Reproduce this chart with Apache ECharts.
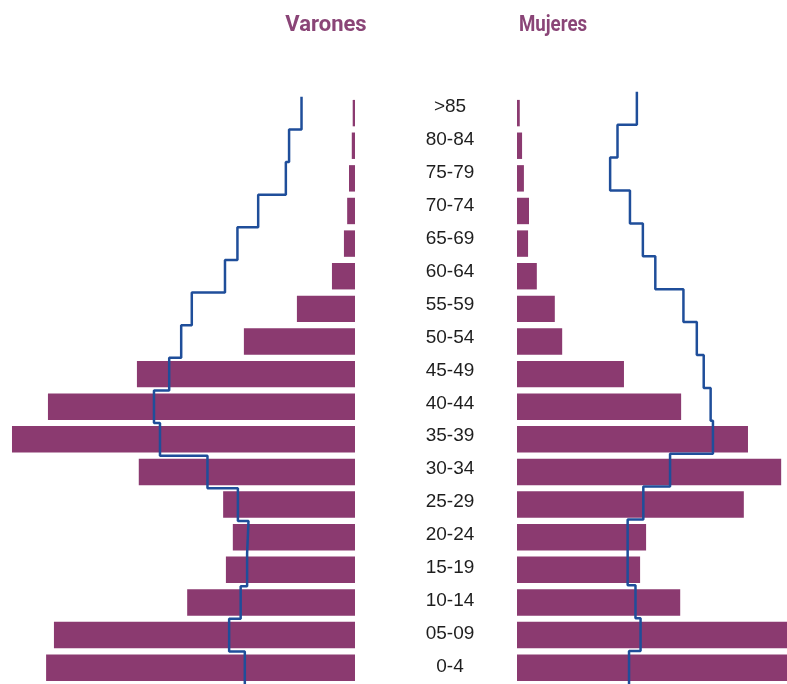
<!DOCTYPE html>
<html>
<head>
<meta charset="utf-8">
<script src="https://cdn.jsdelivr.net/npm/echarts@6/dist/echarts.min.js"></script>
<style>
html,body{margin:0;padding:0;background:#fff;}
#c{width:787px;height:684px;}
</style>
</head>
<body>
<div id="c"></div>
<script>
// Age groups, bottom to top
var ageGroups = ['0-4','05-09','10-14','15-19','20-24','25-29','30-34','35-39','40-44','45-49','50-54','55-59','60-64','65-69','70-74','75-79','80-84','>85'];
// Percent of population (bars)
var varones = [6.70,6.53,3.64,2.80,2.65,2.86,4.69,7.44,6.66,4.73,2.41,1.26,0.50,0.24,0.17,0.13,0.07,0.05];
var mujeres = [6.60,6.40,3.54,2.67,2.80,4.92,5.73,5.01,3.56,2.32,0.98,0.82,0.43,0.24,0.26,0.15,0.11,0.06];
// Reference population (step lines)
var varonesRef = [2.39,2.73,2.48,2.34,2.31,2.54,3.20,4.23,4.36,4.03,3.77,3.54,2.82,2.55,2.10,1.50,1.43,1.16];
var mujeresRef = [2.43,2.68,2.57,2.40,2.40,2.74,3.32,4.25,4.20,4.05,3.90,3.61,3.00,2.73,2.45,2.02,2.18,2.60];
var titles = ['Varones', 'Mujeres'];

function stepPoints(vals){
  var pts = [];
  for (var i = 0; i < vals.length; i++){
    pts.push([vals[i], i - 0.5]);
    pts.push([vals[i], i + 0.5]);
  }
  return pts;
}

var barColor = '#8B3A70';
var lineColor = '#1F4E9A';
var titleColor = '#8A4577';
var LW = 355, RW = 270;
var XMAX_L = 7.7;
var XMAX_R = XMAX_L * RW / LW;
var TOP = 96.8, H = 592.2;

var chart = echarts.init(document.getElementById('c'));
chart.setOption({
  animation:false,
  backgroundColor:'#fff',
  graphic:[
    {type:'text', x:326, y:14.5, style:{text:titles[0], textAlign:'center', textVerticalAlign:'top',
      font:'bold 22px Roboto', fill:titleColor}},
    {type:'text', x:553, y:14.5, scaleX:0.85, style:{text:titles[1], textAlign:'center', textVerticalAlign:'top',
      font:'bold 22px Roboto', fill:titleColor}}
  ],
  grid:[
    {left:0, width:LW, top:TOP, height:H},
    {left:517, width:RW, top:TOP, height:H},
    {left:0, width:LW, top:TOP, height:H},
    {left:517, width:RW, top:TOP-5, height:H},
    {left:517, width:RW, top:TOP-6, height:H}
  ],
  xAxis:[
    {type:'value', gridIndex:0, inverse:true, min:0, max:XMAX_L, show:false},
    {type:'value', gridIndex:1, min:0, max:XMAX_R, show:false},
    {type:'value', gridIndex:2, inverse:true, min:0, max:XMAX_L, show:false},
    {type:'value', gridIndex:3, min:0, max:XMAX_R, show:false},
    {type:'value', gridIndex:4, min:0, max:XMAX_R, show:false}
  ],
  yAxis:[
    {type:'category', gridIndex:0, data:ageGroups, show:false},
    {type:'category', gridIndex:1, data:ageGroups, show:false},
    {type:'value', gridIndex:2, min:-0.5, max:17.5, show:false},
    {type:'value', gridIndex:3, min:-0.5, max:17.5, show:false},
    {type:'category', gridIndex:4, data:ageGroups,
     axisLine:{show:false}, axisTick:{show:false}, splitLine:{show:false},
     axisLabel:{show:true, margin:67, align:'center', fontFamily:'Liberation Sans, Arial, sans-serif',
       fontSize:19, color:'#1e1e1e'}}
  ],
  series:[
    {type:'bar', name:'Varones', xAxisIndex:0, yAxisIndex:0, data:varones,
     barCategoryGap:'19%', itemStyle:{color:barColor}},
    {type:'bar', name:'Mujeres', xAxisIndex:1, yAxisIndex:1, data:mujeres,
     barCategoryGap:'19%', clip:true, itemStyle:{color:barColor}},
    {type:'line', xAxisIndex:2, yAxisIndex:2, data:stepPoints(varonesRef), showSymbol:false,
     z:5, lineStyle:{color:lineColor, width:2.5}},
    {type:'line', xAxisIndex:3, yAxisIndex:3, data:stepPoints(mujeresRef), showSymbol:false,
     z:5, lineStyle:{color:lineColor, width:2.5}}
  ]
});
</script>
</body>
</html>
